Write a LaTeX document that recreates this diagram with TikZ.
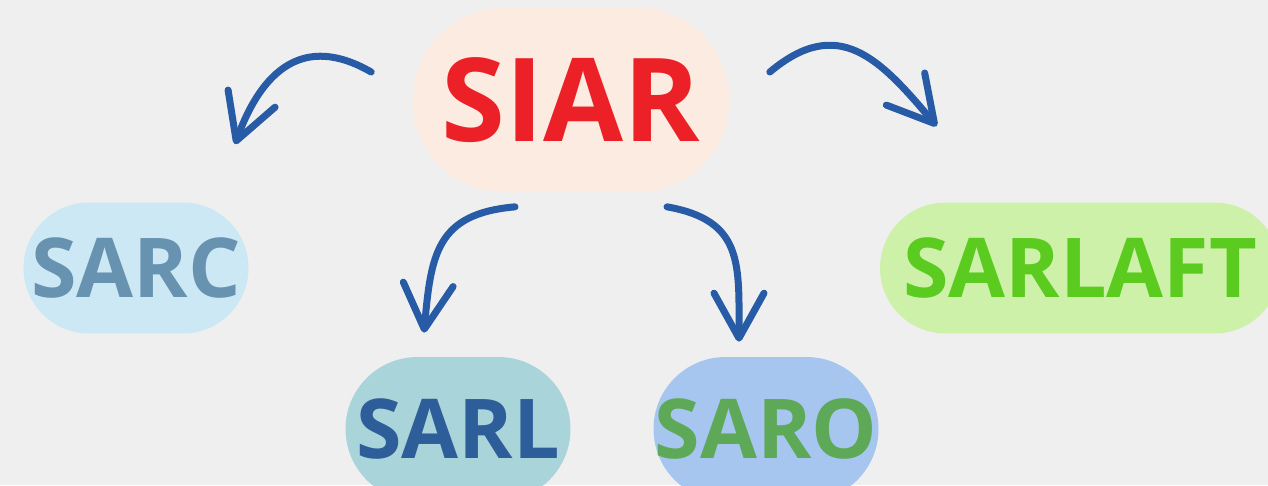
\documentclass[tikz,border=0pt]{standalone}
\usepackage{fontspec}
\newfontfamily\pillfont{Open Sans}
\usetikzlibrary{arrows.meta,positioning}
\definecolor{bgGray}{HTML}{EFEFEF}
\definecolor{arrowBlue}{HTML}{285BA5}
\definecolor{siarFill}{HTML}{FBEBE1}
\definecolor{siarText}{HTML}{EC2128}
\definecolor{sarcFill}{HTML}{CCE8F4}
\definecolor{sarcText}{HTML}{6792B0}
\definecolor{sarlFill}{HTML}{A9D4DA}
\definecolor{sarlText}{HTML}{2D5E9A}
\definecolor{saroFill}{HTML}{A6C5EF}
\definecolor{saroText}{HTML}{5EA957}
\definecolor{laftFill}{HTML}{CDF1A9}
\definecolor{laftText}{HTML}{5BCB1F}
\begin{document}
\begin{tikzpicture}[x=0.02cm, y=-0.02cm,
  pill/.style={rounded corners=1.31cm, inner sep=0pt, minimum width=4.5cm, minimum height=2.62cm,
    font=\pillfont\bfseries\fontsize{47}{47}\selectfont},
  link/.style={draw=arrowBlue, line width=0.14cm, line cap=round, looseness=1.3,
    -{Straight Barb[length=0.9cm, width=1.0cm, round]}}]
\useasboundingbox (0,0) rectangle (1268,485);
\clip (0,0) rectangle (1268,485);
\fill[bgGray] (0,0) rectangle (1268,485);
% the five pills
\node[pill, fill=siarFill, text=siarText, minimum width=6.34cm, minimum height=3.7cm, rounded corners=1.85cm,
  font=\pillfont\bfseries\fontsize{66}{66}\selectfont] (siar) at (571,100) {SIAR};
\node[pill, fill=sarcFill, text=sarcText] (sarc) at (136,268) {SARC};
\node[pill, fill=sarlFill, text=sarlText, minimum height=2.88cm, rounded corners=1.44cm] (sarl) at (458,429) {SARL};
\node[pill, fill=saroFill, text=saroText, minimum height=2.88cm, rounded corners=1.44cm] (saro) at (766,429) {SARO};
\node[pill, fill=laftFill, text=laftText, minimum width=8cm] (sarlaft) at (1080,268) {SARLAFT};
% curved arrows
\draw[link] ([shift={(-41,-28)}]siar.west) to[out=150, in=70] ([shift={(99,-58)}]sarc.north);
\draw[link] ([shift={(40,-28)}]siar.east) to[out=40, in=130] ([shift={(57,-76)}]sarlaft.north west);
\draw[link] ([shift={(-56,14)}]siar.south) to[out=185, in=85] ([shift={(-34,-24)}]sarl.north);
\draw[link] ([shift={(96,14)}]siar.south) to[out=-10, in=90] ([shift={(-27,-15)}]saro.north);
\end{tikzpicture}
\end{document}
